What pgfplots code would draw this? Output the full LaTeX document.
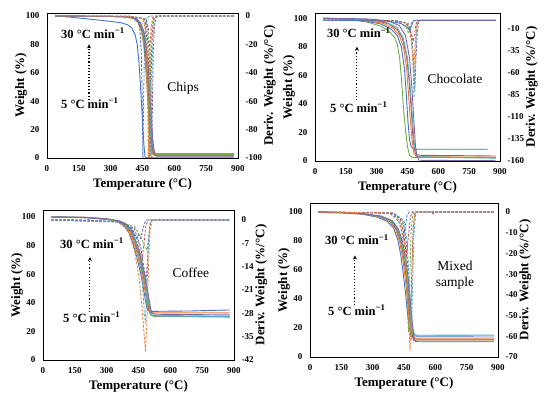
\documentclass[border=0pt]{standalone}
\usepackage{fontspec}
\setmainfont{Liberation Serif}[BoldFont={Liberation Serif Bold}]
\usepackage{pgfplots}
\pgfplotsset{compat=1.18}
\usetikzlibrary{arrows.meta}
\definecolor{cB}{HTML}{4472C4}
\definecolor{cO}{HTML}{ED7D31}
\definecolor{cR}{HTML}{C0504D}
\definecolor{cG}{HTML}{70AD47}
\definecolor{cC}{HTML}{4BACC6}
\definecolor{cP}{HTML}{8064A2}
\tikzset{
  lbl/.style={font=\bfseries\fontsize{12.5}{14}\selectfont, anchor=west, inner sep=0pt},
  nm/.style={font=\fontsize{13.5}{16}\selectfont, align=center, inner sep=0pt},
  tga/.style={solid, line width=0.9pt},
  dtg/.style={dash pattern=on 2.5pt off 1.5pt, line width=0.8pt},
}
\pgfplotsset{
  base/.style={scale only axis, xmin=0, xmax=900, major tick length=0pt,
    tick label style={font=\bfseries\fontsize{9}{10}\selectfont},
    label style={font=\bfseries\fontsize{13}{15}\selectfont},
    axis line style={line width=0.9pt}, clip=true},
  leftax/.style={base, xtick={0,150,300,450,600,750,900},
    xticklabels={0,150,300,450,600,750,900},
    ytick={0,20,40,60,80,100}, yticklabels={0,20,40,60,80,100},
    xticklabel style={yshift=-4pt}, yticklabel style={xshift=-4pt},
    xlabel={Temperature (°C)}, ylabel={Weight (\%)},
    xlabel style={yshift=0pt}, ylabel style={yshift=-8pt}},
  rightax/.style={base, axis y line*=right, axis x line=none,
    yticklabel style={xshift=4pt},
    ylabel={Deriv. Weight (\%/°C)}, ylabel style={yshift=5pt}},
}
\newcommand{\rates}[4]{%
  \node[lbl] at (axis cs:#1) {30 °C min\textsuperscript{−1}};
  \node[lbl] at (axis cs:#2) {5 °C min\textsuperscript{−1}};
  \draw[-{Stealth[length=4pt,width=4pt]}, dotted, line width=1.1pt] (axis cs:#3) -- (axis cs:#4);}
\begin{document}
\begin{tikzpicture}
\path[use as bounding box] (0,0) rectangle (550pt,397pt);
% ================= Panel 1: Chips =================
\begin{axis}[leftax, at={(47pt,239pt)}, anchor=south west, width=191pt, height=145pt, ymin=0, ymax=102.1]
\addplot[tga, cB] coordinates {(40,100)(100,99.3)(200,97.8)(300,96.2)(350,95.2)(380,93.8)(400,91.5)(415,87)(425,80)(433,68)(440,52)(447,34)(453,18)(458,7)(462,1)(468,0.2)(880,0.2)};
\addplot[tga, cO] coordinates {(40,100)(300,99.7)(380,99.3)(410,98)(430,95)(445,89)(455,80)(463,68)(470,52)(477,34)(484,18)(490,8)(496,3)(505,2)(880,2)};
\addplot[tga, cG] coordinates {(40,100)(300,99.7)(383,99.3)(413,98)(433,95)(448,89)(458,80)(466,68)(473,52)(480,34)(487,18)(493,8)(499,3.5)(508,2.6)(880,2.6)};
\addplot[tga, cR] coordinates {(40,100)(300,99.7)(386,99.3)(416,98)(436,95)(451,89)(461,80)(469,68)(476,52)(483,34)(490,18)(496,8)(502,3)(511,1.6)(880,1.6)};
\addplot[tga, cC] coordinates {(40,100)(300,99.7)(389,99.3)(419,98)(439,95)(454,89)(464,80)(472,68)(479,52)(486,34)(493,18)(499,8)(505,4)(514,3.2)(880,3.2)};
\addplot[tga, cP] coordinates {(40,100)(300,99.7)(392,99.3)(422,98)(442,95)(457,89)(467,80)(475,68)(482,52)(489,34)(496,18)(502,8)(508,3)(517,1.2)(880,1.2)};
\rates{66,88}{66,38.7}{198,41}{198,80}
\node[nm] at (axis cs:641,49) {Chips};
\end{axis}
\begin{axis}[rightax, at={(47pt,239pt)}, anchor=south west, width=191pt, height=145pt, ymin=-100, ymax=2.1,
  ytick={-100,-80,-60,-40,-20,0}, yticklabels={-100,-80,-60,-40,-20,0}]
\addplot[dtg, cP] coordinates {(40,0)(400,-0.3)(466,-2)(478,-8)(485,-25)(490,-60)(494,-102)(497,-60)(501,-25)(506,-8)(514,-1)(531,0)(880,0)};
\addplot[dtg, cG] coordinates {(40,0)(400,-0.3)(454,-2)(466,-8)(473,-25)(478,-60)(482,-102)(485,-60)(489,-25)(494,-8)(502,-1)(519,0)(880,0)};
\addplot[dtg, cR] coordinates {(40,0)(400,-0.3)(458,-2)(470,-8)(477,-25)(482,-60)(486,-102)(489,-60)(493,-25)(498,-8)(506,-1)(523,0)(880,0)};
\addplot[dtg, cC] coordinates {(40,0)(400,-0.3)(462,-2)(474,-8)(481,-25)(486,-60)(490,-102)(493,-60)(497,-25)(502,-8)(510,-1)(527,0)(880,0)};
\addplot[dtg, cB] coordinates {(40,0)(380,-0.3)(425,-2)(437,-8)(444,-25)(449,-60)(452,-102)(455,-60)(459,-25)(464,-8)(472,-1)(490,0)(880,0)};
\addplot[dtg, cO] coordinates {(40,0)(400,-0.3)(450,-2)(462,-8)(469,-25)(474,-60)(478,-102)(481,-60)(485,-25)(490,-8)(498,-1)(515,0)(880,0)};
\end{axis}
% ================= Panel 2: Chocolate =================
\begin{axis}[leftax, at={(315pt,236pt)}, anchor=south west, width=185pt, height=148pt, ymin=0, ymax=103.7]
\addplot[tga, cG] coordinates {(40,100)(150,99.3)(250,97.5)(320,94.5)(360,91)(385,87)(400,82)(412,72)(422,55)(430,38)(440,22)(450,10)(460,4)(475,2.5)(880,2.3)};
\addplot[tga, cB] coordinates {(40,100)(150,99.5)(250,98)(320,96)(370,92.5)(400,88)(420,80)(435,65)(445,45)(452,28)(460,15)(468,10)(478,8.5)(500,8.2)(840,8.2)};
\addplot[tga, cO] coordinates {(40,99.5)(150,99.3)(250,98.3)(330,96.5)(380,93)(410,88)(430,80)(445,66)(455,47)(463,30)(472,15)(480,6)(490,3.5)(510,3)(880,2.6)};
\addplot[tga, cR] coordinates {(40,100)(200,99.5)(300,98.3)(360,96)(400,92)(425,86)(445,74)(458,56)(468,36)(476,18)(484,8)(492,4.5)(510,4)(880,3.5)};
\addplot[tga, cC] coordinates {(40,100)(250,99.2)(340,97.5)(400,93.5)(430,86)(450,72)(463,52)(473,32)(481,15)(489,6)(498,3)(880,2)};
\addplot[tga, cP] coordinates {(40,100)(250,99.6)(350,98.4)(410,95)(440,88)(460,72)(472,50)(481,28)(489,10)(497,3)(506,0.5)(880,0.2)};
\rates{58,89.7}{73,37.8}{204,42.7}{204,80}
\node[nm] at (axis cs:681,57.5) {Chocolate};
\end{axis}
\begin{axis}[rightax, at={(315pt,236pt)}, anchor=south west, width=185pt, height=148pt, ymin=-160, ymax=8.2,
  ytick={-160,-135,-110,-85,-60,-35,-10}, yticklabels={-160,-135,-110,-85,-60,-35,-10}]
\addplot[dtg, cG] coordinates {(40,0)(350,-0.8)(420,-4)(445,-9)(455,-15)(463,-8)(472,-2)(485,0)(880,0)};
\addplot[dtg, cP] coordinates {(40,0)(400,-0.5)(455,-4)(472,-20)(481,-50)(486,-80)(491,-45)(498,-12)(506,-1)(520,0)(880,0)};
\addplot[dtg, cC] coordinates {(40,0)(400,-0.6)(450,-4)(468,-18)(477,-50)(482,-88)(487,-50)(494,-12)(502,-1)(515,0)(880,0)};
\addplot[dtg, cO] coordinates {(40,0)(380,-0.5)(440,-3)(462,-12)(473,-35)(480,-60)(486,-32)(493,-8)(501,-1)(515,0)(880,0)};
\addplot[dtg, cR] coordinates {(40,0)(380,-0.5)(440,-3)(460,-8)(470,-16)(478,-24)(485,-14)(492,-4)(500,-0.5)(512,0)(880,0)};
\addplot[tga, cB, line width=0.8pt] coordinates {(40,0)(200,-0.3)(350,-1.2)(410,-3)(438,-6)(452,-9)(462,-11.5)(469,-7)(476,-2)(484,-0.3)(495,0)(880,0)};
\end{axis}
% ================= Panel 3: Coffee =================
\begin{axis}[leftax, at={(43pt,37pt)}, anchor=south west, width=191pt, height=150pt, ymin=0, ymax=104.9]
\addplot[tga, cB] coordinates {(40,100)(200,99.6)(300,98.3)(350,97)(380,94.5)(405,89)(425,81)(442,72)(458,62)(470,53)(480,44)(488,37)(495,34.5)(510,34)(700,34.3)(880,35)};
\addplot[tga, cO] coordinates {(40,100)(200,99.7)(300,98.6)(350,97.3)(385,94.5)(410,89)(430,81)(448,72)(463,62)(475,53)(485,44)(493,37)(500,34)(515,33)(880,33)};
\addplot[tga, cR] coordinates {(40,100)(200,99.8)(300,98.8)(355,97.3)(390,94.5)(415,89)(435,81)(453,72)(468,62)(480,53)(490,44)(498,36)(505,32)(520,31)(880,30.5)};
\addplot[tga, cG] coordinates {(40,100)(200,99.7)(300,98.5)(358,97)(393,94.5)(418,89)(438,81)(456,72)(471,62)(483,53)(493,44)(501,36)(508,31.5)(523,30.5)(880,30)};
\addplot[tga, cC] coordinates {(40,100)(200,99.6)(300,98.4)(360,97)(396,94.5)(421,89)(441,81)(459,72)(474,62)(486,53)(496,44)(504,36)(510,32)(525,30.8)(880,30.3)};
\addplot[tga, cP] coordinates {(40,100)(200,99.7)(300,98.6)(362,97.2)(398,94.5)(423,89)(443,81)(461,72)(476,62)(488,53)(498,44)(506,37)(512,33)(527,32)(880,31.5)};
\rates{80,81.8}{94,30}{221,33.6}{221,72}
\node[nm] at (axis cs:697,60.8) {Coffee};
\end{axis}
\begin{axis}[rightax, at={(43pt,37pt)}, anchor=south west, width=191pt, height=150pt, ymin=-42, ymax=3,
  ytick={-42,-35,-28,-21,-14,-7,0}, yticklabels={-42,-35,-28,-21,-14,-7,0}]
\addplot[dtg, cR] coordinates {(40,0)(350,-0.5)(420,-2.5)(445,-6)(460,-10)(468,-11.5)(476,-7)(484,-2)(495,0)(880,0)};
\addplot[dtg, cG] coordinates {(40,0)(200,0.3)(250,-0.3)(300,0.3)(350,-0.5)(430,-2)(460,-5)(480,-8)(490,-9)(498,-5)(506,-1)(515,0)(880,0)};
\addplot[dtg, cP] coordinates {(40,0)(350,-0.5)(430,-2.5)(460,-8)(478,-15)(486,-18)(494,-10)(502,-2)(512,0)(880,0)};
\addplot[dtg, cC] coordinates {(40,0)(350,-0.6)(420,-3)(450,-9)(468,-19)(478,-28)(483,-31)(489,-22)(496,-8)(504,-1)(515,0)(880,0)};
\addplot[dtg, cO] coordinates {(40,0)(350,-0.5)(400,-3)(430,-9)(450,-16)(465,-25)(476,-34)(483,-39.5)(490,-30)(497,-14)(505,-3)(515,0)(880,0)};
\addplot[dtg, cB] coordinates {(40,0)(300,-0.3)(380,-0.8)(410,-2)(428,-4)(440,-5.5)(450,-4.5)(460,-5.5)(470,-3)(478,-1)(488,0)(880,0)};
\end{axis}
% ================= Panel 4: Mixed sample =================
\begin{axis}[leftax, at={(310pt,40pt)}, anchor=south west, width=188pt, height=154pt, ymin=0, ymax=106.2]
\addplot[tga, cB] coordinates {(40,100)(150,99.5)(250,98.5)(320,96.5)(370,93.5)(400,89)(420,81)(435,70)(447,57)(458,43)(467,30)(475,20)(482,15.5)(492,14.7)(520,14.3)(880,14.5)};
\addplot[tga, cO] coordinates {(40,99.5)(150,99.3)(250,98.6)(330,96.8)(380,93.5)(410,88)(430,79)(445,67)(457,53)(467,39)(476,26)(484,17)(492,13.5)(505,13)(880,13)};
\addplot[tga, cR] coordinates {(40,100)(150,99.6)(250,98.8)(330,97)(385,94)(415,88)(435,79)(450,67)(462,53)(472,38)(481,24)(489,15)(497,11.5)(510,11)(880,11)};
\addplot[tga, cG] coordinates {(40,100)(150,99.6)(250,98.8)(335,97)(388,94)(418,88)(438,79)(453,67)(465,53)(475,38)(484,24)(492,16)(500,12.5)(515,12)(880,12)};
\addplot[tga, cC] coordinates {(40,100)(150,99.6)(250,98.8)(338,97)(391,94)(421,88)(441,79)(456,67)(468,53)(478,38)(487,25)(495,17.5)(503,15.3)(518,15)(880,15.2)};
\addplot[tga, cP] coordinates {(40,100)(150,99.7)(250,98.9)(340,97.2)(394,94)(424,88)(444,79)(459,67)(471,53)(481,38)(490,23)(498,13)(505,10.8)(520,10.5)(880,10.5)};
\rates{72,80.7}{86,32.4}{215,36}{215,70}
\node[nm] at (axis cs:694,56.5) {Mixed\\sample};
\end{axis}
\begin{axis}[rightax, at={(310pt,40pt)}, anchor=south west, width=188pt, height=154pt, ymin=-70, ymax=4.35,
  ytick={-70,-60,-50,-40,-30,-20,-10,0}, yticklabels={-70,-60,-50,-40,-30,-20,-10,0}]
\addplot[dtg, cG] coordinates {(40,0)(400,-0.5)(440,-4)(455,-15)(465,-38)(471,-58)(477,-35)(484,-10)(492,-1)(502,0)(880,0)};
\addplot[dtg, cP] coordinates {(40,0)(400,-0.5)(445,-4)(462,-15)(473,-38)(480,-55)(486,-33)(493,-9)(501,-1)(510,0)(580,0)(590,-1)(598,0)(880,0)};
\addplot[dtg, cC] coordinates {(40,0)(400,-0.5)(450,-4)(466,-15)(477,-40)(485,-62)(491,-36)(498,-10)(506,-1)(515,0)(880,0)};
\addplot[dtg, cR] coordinates {(40,0)(390,-0.5)(430,-3)(448,-10)(462,-21)(472,-11)(481,-2)(492,0)(880,0)};
\addplot[dtg, cB] coordinates {(40,0)(380,-0.5)(420,-3)(435,-8)(446,-13)(456,-7)(465,-1.5)(475,0)(880,0)};
\addplot[dtg, cO] coordinates {(40,0)(380,-0.5)(430,-5)(452,-15)(465,-35)(474,-55)(479,-67)(485,-45)(492,-15)(500,-2)(510,0)(880,0)};
\end{axis}
\end{tikzpicture}
\end{document}
